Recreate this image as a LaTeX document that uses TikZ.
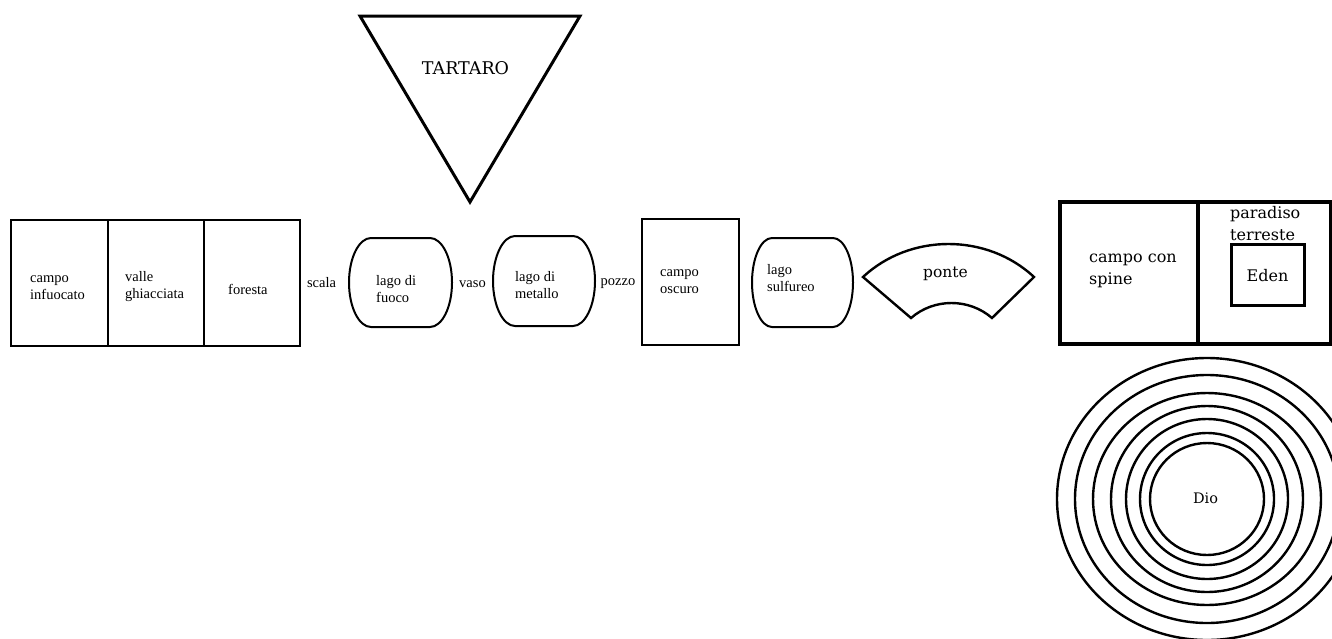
\documentclass[tikz,border=0pt]{standalone}
\usepackage{fontspec}
\usetikzlibrary{calc}
\setmainfont{Liberation Serif}
\newfontfamily\slabfont{DejaVu Serif}
% outline of a lake: flat top and bottom, sides bulging as half ellipses
\newcommand\lakeoutline[2]{%
  \draw[line width=2pt]
    ($(#1.north west)+(#2,0)$) -- ($(#1.north east)+(-#2,0)$)
    .. controls ($(#1.north east)+(-0.45*#2,0)$) and ($(#1.east)+(0,-0.552*\lakehalf)$) .. (#1.east)
    .. controls ($(#1.east)+(0,0.552*\lakehalf)$) and ($(#1.south east)+(-0.45*#2,0)$) .. ($(#1.south east)+(-#2,0)$)
    -- ($(#1.south west)+(#2,0)$)
    .. controls ($(#1.south west)+(0.45*#2,0)$) and ($(#1.west)+(0,0.552*\lakehalf)$) .. (#1.west)
    .. controls ($(#1.west)+(0,-0.552*\lakehalf)$) and ($(#1.north west)+(0.45*#2,0)$) .. ($(#1.north west)+(#2,0)$)
    -- cycle;}
\def\lakehalf{44.5}
\begin{document}
\begin{tikzpicture}[x=1pt, y=-1pt,
  cell/.style={draw, line width=2.2pt, inner sep=0pt},
  lake/.style={inner sep=0pt, outer sep=0pt},
  bigcell/.style={draw, line width=3.2pt, inner sep=0pt},
  lbl/.style={inner sep=0pt, align=left, font=\fontsize{14.5}{17}\selectfont},
  slab/.style={inner sep=0pt, align=left, font=\slabfont\fontsize{16}{22}\selectfont},
  ring/.style={line width=2.4pt}
]
\useasboundingbox (0,0) rectangle (1332,638);

% inferno: first three fields
\node[cell, minimum width=97pt, minimum height=126pt] (infuocato) at (59.5,283) {};
\node[cell, minimum width=96pt, minimum height=126pt] (ghiacciata) at (156,283) {};
\node[cell, minimum width=96pt, minimum height=126pt] (foresta) at (252,283) {};
\node[lbl, anchor=west] (tinfuocato) at (30,288) {campo\\infuocato};
\node[lbl, anchor=west] (tghiacciata) at (125,287) {valle\\ghiacciata};
\node[lbl, anchor=west] (tforesta) at (228,289) {foresta};

% passages and lakes
\node[lbl] (scala) at (321.5,283) {scala};
\node[lake, minimum width=103pt, minimum height=89pt] (fuoco) at (400.5,282.5) {};
\lakeoutline{fuoco}{22}
\node[lbl, anchor=west] (tfuoco) at (376,289) {lago di\\fuoco};
\node[lbl] (vaso) at (472.5,284) {vaso};
\node[lake, minimum width=102pt, minimum height=90pt] (metallo) at (544,281) {};
\lakeoutline{metallo}{22}
\node[lbl, anchor=west] (tmetallo) at (515,285) {lago di\\metallo};
\node[lbl] (pozzo) at (618,284) {pozzo};
\node[cell, minimum width=97pt, minimum height=126pt] (oscuro) at (690.5,282) {};
\node[lbl, anchor=west] (toscuro) at (660,282) {campo\\oscuro};
\node[lake, minimum width=101pt, minimum height=89pt] (sulfureo) at (802.5,282.5) {};
\lakeoutline{sulfureo}{20}
\node[lbl, anchor=west] (tsulfureo) at (767,278) {lago\\sulfureo};

% the bridge
\draw[line width=2.4pt, line join=miter]
  (863,277) .. controls (910,233) and (987,233) .. (1034,277)
  -- (992,318) .. controls (969,298) and (934,298) .. (911,318) -- cycle;
\node[slab, font=\slabfont\fontsize{15.5}{18}\selectfont] (ponte) at (945.5,274) {ponte};

% Tartaro
\draw[line width=3pt, line join=miter] (360,16) -- (580,16) -- (470,202) -- cycle;
\node[slab, font=\slabfont\fontsize{17.5}{20}\selectfont] (tartaro) at (465.5,68) {TARTARO};

% purgatorio and paradiso terrestre
\node[bigcell, minimum width=138pt, minimum height=142pt] (spine) at (1129,273) {};
\node[bigcell, minimum width=133pt, minimum height=142pt] (paradiso) at (1264.5,273) {};
\node[slab, anchor=west] (tspine) at (1089,271) {campo con\\spine};
\node[slab, anchor=west] (tparadiso) at (1230,224) {paradiso\\terreste};
\node[draw, line width=3pt, minimum width=73pt, minimum height=61pt, inner sep=0pt] (eden) at (1267.5,274.5) {};
\node[slab] (teden) at (1267.5,276) {Eden};

% the heavens
\begin{scope}
  \clip (0,0) rectangle (1332,638);
  \coordinate (cielo) at (1207,499);
  \foreach \rx/\ry in {150/141, 132/124, 114/106, 96/93, 81/80, 67/66, 57/56}
    \draw[ring] (cielo) ellipse [x radius=\rx, y radius=\ry];
\end{scope}
\node[slab, font=\slabfont\fontsize{14.5}{17}\selectfont] (dio) at (1205.5,498) {Dio};
\end{tikzpicture}
\end{document}
